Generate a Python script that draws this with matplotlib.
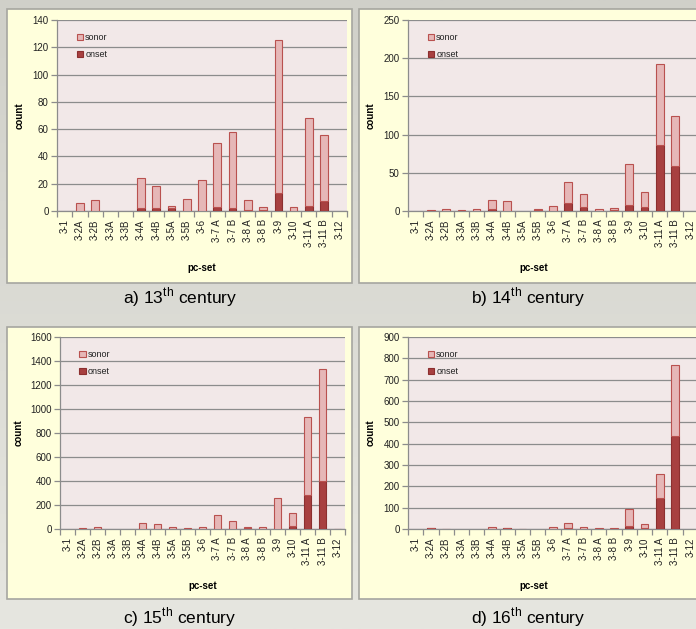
import numpy as np
import matplotlib
matplotlib.use("Agg")
import matplotlib.pyplot as plt
from matplotlib.patches import Rectangle, Patch
from matplotlib.colors import LinearSegmentedColormap

plt.rcParams["font.family"] = ["Liberation Sans", "DejaVu Sans"]
plt.rcParams["mathtext.fontset"] = "custom"
plt.rcParams["mathtext.rm"] = "Liberation Sans"

# --- données ---
PCSETS = ["3-1", "3-2A", "3-2B", "3-3A", "3-3B", "3-4A", "3-4B", "3-5A", "3-5B", "3-6",
          "3-7 A", "3-7 B", "3-8 A", "3-8 B", "3-9", "3-10", "3-11 A", "3-11 B", "3-12"]

onset_13 = [0, 0, 0, 0, 0, 2, 2, 2, 0, 0, 3, 2, 1, 1, 13, 0, 4, 7, 0]
sonor_13 = [0, 6, 8, 0, 0, 22, 16, 2, 9, 23, 47, 56, 7, 2, 112, 3, 64, 49, 0]

onset_14 = [0, 0, 0, 0, 0, 3, 0, 0, 1, 0, 11, 5, 0, 1, 8, 5, 87, 59, 0]
sonor_14 = [0, 1, 3, 1, 3, 11, 13, 0, 1, 6, 27, 17, 3, 3, 53, 20, 105, 66, 0]

onset_15 = [0, 3, 2, 0, 0, 2, 3, 3, 0, 2, 2, 2, 5, 3, 3, 25, 280, 400, 0]
sonor_15 = [0, 9, 15, 0, 0, 50, 37, 14, 7, 14, 118, 68, 10, 14, 252, 107, 650, 935, 4]

onset_16 = [0, 3, 0, 0, 0, 2, 3, 0, 0, 2, 3, 2, 0, 1, 15, 3, 147, 435, 0]
sonor_16 = [0, 4, 2, 0, 0, 8, 2, 1, 0, 8, 24, 8, 3, 3, 78, 19, 113, 332, 0]

CAPTIONS = ["a) 13$^{\\rm th}$ century", "b) 14$^{\\rm th}$ century",
            "c) 15$^{\\rm th}$ century", "d) 16$^{\\rm th}$ century"]
YTICKS = [np.arange(0, 141, 20), np.arange(0, 251, 50),
          np.arange(0, 1601, 200), np.arange(0, 901, 100)]

# --- style ---
BG_TOP = "#d0d0c9"
BG_BOTTOM = "#e6e6e0"
PANEL_BG = "#ffffdc"
PANEL_EDGE = "#a6a6a0"
PLOT_BG = "#f2e8e8"
GRID = "#8c8c8c"
SONOR = "#e6b7b7"
SONOR_EDGE = "#b9514f"
ONSET = "#a84040"
ONSET_EDGE = "#8c2f2f"
INK = "#222222"

W, H = 696, 629
fig = plt.figure(figsize=(W / 100, H / 100), dpi=100)
fig.patch.set_facecolor(BG_BOTTOM)

# fond en léger dégradé vertical
bg = fig.add_axes([0, 0, 1, 1], zorder=-10)
bg.imshow(np.linspace(0, 1, 256)[:, None], aspect="auto", extent=(0, 1, 0, 1),
          cmap=LinearSegmentedColormap.from_list("bg", [BG_TOP, BG_BOTTOM]))
bg.set_axis_off()


def fx(x):
    return x / W


def fy(y):
    return 1 - y / H


# boîtes (px) : cadre, zone de tracé (gauche, droite, haut, zéro), légendes
panels = [
    dict(box=(7, 9, 352, 283), plot=(57, 347, 20, 211), cap=(180, 297),
         ylab=20, xlab=268),
    dict(box=(359, 9, 720, 283), plot=(408, 698, 20, 211), cap=(528, 297),
         ylab=371, xlab=268),
    dict(box=(7, 327, 352, 599), plot=(60, 345, 337, 529), cap=(180, 617),
         ylab=19, xlab=586),
    dict(box=(359, 327, 720, 599), plot=(408, 698, 337, 529), cap=(528, 617),
         ylab=371, xlab=586),
]
series = [(onset_13, sonor_13), (onset_14, sonor_14),
          (onset_15, sonor_15), (onset_16, sonor_16)]

x = np.arange(len(PCSETS))

for p, (onset, sonor), yt, cap in zip(panels, series, YTICKS, CAPTIONS):
    x0, y0, x1, y1 = p["box"]
    bg.add_patch(Rectangle((fx(x0), fy(y1)), fx(x1 - x0), (y1 - y0) / H,
                           transform=fig.transFigure, facecolor=PANEL_BG,
                           edgecolor=PANEL_EDGE, lw=1.2, zorder=5))
    l, r, t, b = p["plot"]
    ax = fig.add_axes([fx(l), fy(b), fx(r - l), (b - t) / H])
    ax.set_facecolor(PLOT_BG)

    onset = np.array(onset)
    sonor = np.array(sonor)
    ec_on = [ONSET_EDGE if v > 0 else "none" for v in onset]
    ec_so = [SONOR_EDGE if v > 0 else "none" for v in sonor]
    ax.bar(x, onset, width=0.5, color=ONSET, edgecolor=ec_on, lw=0.8, zorder=3)
    ax.bar(x, sonor, bottom=onset, width=0.5, color=SONOR, edgecolor=ec_so,
           lw=0.8, zorder=3)

    ax.set_xlim(-0.5, len(PCSETS) - 0.5)
    ax.set_ylim(yt[0], yt[-1])
    ax.set_yticks(yt)
    ax.set_yticklabels([str(v) for v in yt], fontsize=7, color=INK)
    ax.yaxis.grid(True, color=GRID, lw=0.9, zorder=1)
    ax.set_axisbelow(True)
    ax.set_xticks(x)
    ax.set_xticklabels(PCSETS, rotation=90, fontsize=7, color=INK)
    ax.set_xticks(np.arange(-0.5, len(PCSETS)), minor=True)
    ax.tick_params(axis="x", which="major", length=0, pad=6)
    ax.tick_params(axis="x", which="minor", length=4, color=GRID, width=0.9)
    ax.tick_params(axis="y", length=4, color=GRID, width=0.9, pad=2)
    for s in ("top", "right"):
        ax.spines[s].set_visible(False)
    for s in ("left", "bottom"):
        ax.spines[s].set_color(GRID)
        ax.spines[s].set_linewidth(0.9)

    ax.legend([Patch(facecolor=SONOR, edgecolor=SONOR_EDGE, lw=0.8),
               Patch(facecolor=ONSET, edgecolor=ONSET_EDGE, lw=0.8)],
              ["sonor", "onset"], loc="upper left", bbox_to_anchor=(0.055, 0.95),
              frameon=False, fontsize=6.5, handlelength=0.75, handleheight=0.75,
              handletextpad=0.2, labelspacing=0.9, borderaxespad=0,
              labelcolor=INK)

    fig.text(fx(p["ylab"]), fy((t + b) / 2), "count", rotation=90, fontsize=7,
             fontweight="bold", ha="center", va="center", color="black")
    fig.text(fx((l + r) / 2 if x1 < W else (l + 660) / 2), fy(p["xlab"]), "pc-set",
             fontsize=7, fontweight="bold", ha="center", va="center", color="black")
    fig.text(fx(p["cap"][0]), fy(p["cap"][1]), cap, fontsize=12.5, ha="center",
             va="center", color="black")

fig.savefig("out.png", dpi=100)
